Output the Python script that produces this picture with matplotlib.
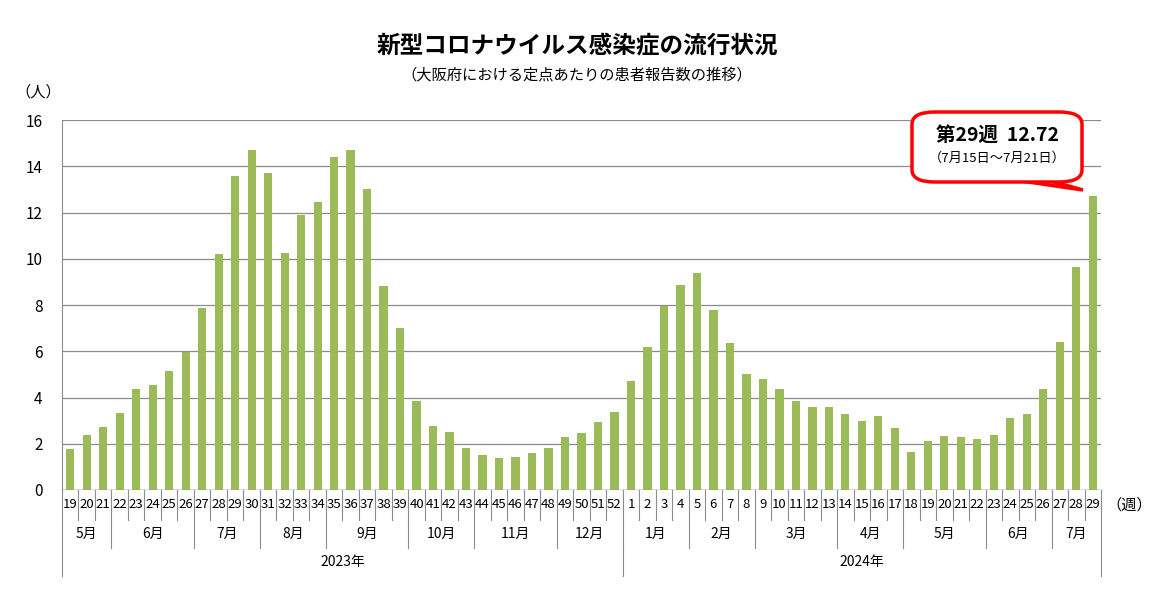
import numpy as np
import matplotlib.pyplot as plt
from matplotlib.patches import FancyBboxPatch, Polygon

plt.rcParams['font.family'] = ['Noto Sans CJK JP', 'DejaVu Sans']

weeks_2023 = list(range(19, 53))
weeks_2024 = list(range(1, 30))
values_2023 = [1.77, 2.38, 2.73, 3.33, 4.37, 4.55, 5.15, 5.97, 7.88, 10.2, 13.6, 14.7,
               13.7, 10.26, 11.9, 12.47, 14.4, 14.7, 13.0, 8.83, 7.01, 3.85, 2.77, 2.51,
               1.82, 1.52, 1.39, 1.43, 1.6, 1.82, 2.29, 2.47, 2.94, 3.38]
values_2024 = [4.72, 6.19, 7.97, 8.87, 9.39, 7.79, 6.36, 5.02, 4.8, 4.37, 3.85, 3.59,
               3.59, 3.29, 2.99, 3.2, 2.68, 1.65, 2.12, 2.34, 2.29, 2.2, 2.38, 3.12,
               3.29, 4.37, 6.41, 9.65, 12.72]
months_2023 = [('5月', 3), ('6月', 5), ('7月', 4), ('8月', 4), ('9月', 5), ('10月', 4), ('11月', 5), ('12月', 4)]
months_2024 = [('1月', 4), ('2月', 4), ('3月', 5), ('4月', 4), ('5月', 5), ('6月', 4), ('7月', 3)]
years = [('2023年', len(weeks_2023)), ('2024年', len(weeks_2024))]

labels = [str(w) for w in weeks_2023 + weeks_2024]
values = values_2023 + values_2024
x = np.arange(len(values))

fig = plt.figure(figsize=(11.54, 6.06), dpi=100)
ax = fig.add_axes([62/1154, 1-490/606, (1101-62)/1154, 370/606])
ax.bar(x, values, width=0.5, color='#9BBB59', zorder=3)
ax.set_xlim(-0.5, len(values) - 0.5)
ax.set_ylim(0, 16)
ax.set_yticks(range(0, 17, 2))
ax.yaxis.grid(True, color='#8c8c8c', linewidth=0.9, zorder=0)
for s in ['top', 'right', 'bottom']:
    ax.spines[s].set_visible(False)
ax.spines['left'].set_color('#8c8c8c')
ax.tick_params(axis='y', length=0, labelsize=11, pad=14)
ax.set_xticks([])
ax.axhline(0, color='#8c8c8c', linewidth=1, zorder=4)

tr = ax.get_xaxis_transform()
r1, r2, r3 = -0.081, -0.157, -0.232
for i, lab in enumerate(labels):
    ax.text(i, r1 / 2, lab, transform=tr, ha='center', va='center', fontsize=9.5)
for i in range(len(values) + 1):
    ax.plot([i - 0.5, i - 0.5], [0, r1], transform=tr, color='#8c8c8c', lw=0.8, clip_on=False)
pos = 0
for name, n in months_2023 + months_2024:
    ax.text(pos + n / 2 - 0.5, (r1 + r2) / 2, name, transform=tr, ha='center', va='center', fontsize=10)
    pos += n
    ax.plot([pos - 0.5, pos - 0.5], [r1, r2], transform=tr, color='#8c8c8c', lw=0.8, clip_on=False)
ax.plot([-0.5, -0.5], [r1, r3], transform=tr, color='#8c8c8c', lw=0.8, clip_on=False)
pos = 0
for name, n in years:
    ax.text(pos + n / 2 - 0.5, (r2 + r3) / 2, name, transform=tr, ha='center', va='center', fontsize=10)
    pos += n
    ax.plot([pos - 0.5, pos - 0.5], [r2, r3], transform=tr, color='#8c8c8c', lw=0.8, clip_on=False)

ax.text(len(values) - 0.2, r1 / 2, '（週）', transform=tr, ha='left', va='center', fontsize=11)
fig.text(15/1154, 1-92/606, '（人）', ha='left', va='center', fontsize=11)
fig.text(0.5, 1-45/606, '新型コロナウイルス感染症の流行状況', ha='center', va='center',
         fontsize=17, fontweight='bold')
fig.text(0.5, 1-75/606, '（大阪府における定点あたりの患者報告数の推移）', ha='center', va='center',
         fontsize=11)

# callout
bx0, by0, bx1, by1 = 912/1154, 1-182/606, 1082/1154, 1-112/606
box = FancyBboxPatch((bx0, by0), bx1 - bx0, by1 - by0, boxstyle='round,pad=0,rounding_size=0.02',
                     transform=fig.transFigure, facecolor='white', edgecolor='#ff0000', lw=2.5, zorder=10)
fig.patches.append(box)
tail = Polygon([(1020/1154, by0 + 0.002), (1050/1154, by0 + 0.002), (1083/1154, 1-190/606)],
               closed=True, transform=fig.transFigure, facecolor='white', edgecolor='#ff0000',
               lw=2.5, zorder=9)
fig.patches.append(tail)
fig.text((bx0 + bx1) / 2, 1-135/606, '第29週  12.72', ha='center', va='center', fontsize=14,
         fontweight='bold', zorder=11)
fig.text((bx0 + bx1) / 2, 1-158/606, '（7月15日～7月21日）', ha='center', va='center', fontsize=9.5,
         zorder=11)

fig.savefig('out.png', dpi=100)
